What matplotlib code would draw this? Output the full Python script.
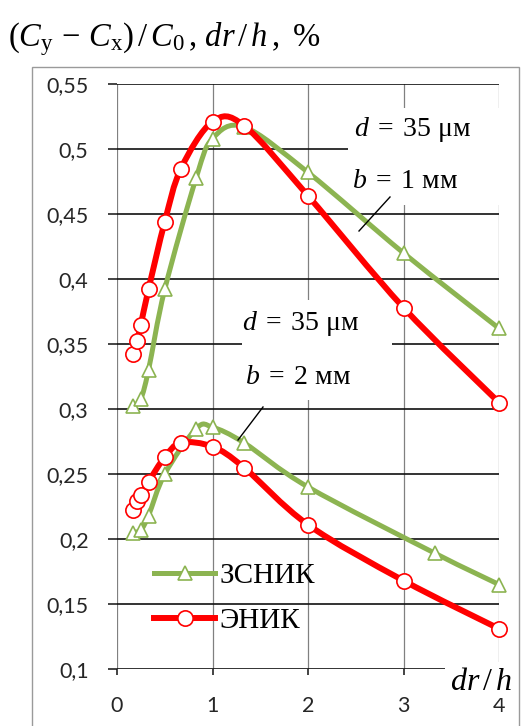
import matplotlib
matplotlib.use("Agg")
import matplotlib.pyplot as plt
from matplotlib.path import Path
from matplotlib.patches import PathPatch, Rectangle
from matplotlib.lines import Line2D
from matplotlib.ticker import FuncFormatter
import numpy as np

plt.rcParams['mathtext.fontset'] = 'custom'
plt.rcParams['mathtext.rm'] = 'Liberation Serif'
plt.rcParams['mathtext.it'] = 'Liberation Serif:italic'
plt.rcParams['mathtext.bf'] = 'Liberation Serif:bold'

# ---- data ----
x_green_1 = [0.17, 0.25, 0.33, 0.5, 0.83, 1.0, 1.33, 2, 3, 4]
y_green_1 = [0.302, 0.308, 0.330, 0.392, 0.478, 0.508, 0.517, 0.482, 0.420, 0.362]
x_red_1 = [0.17, 0.21, 0.25, 0.33, 0.5, 0.67, 1.0, 1.33, 2, 3, 4]
y_red_1 = [0.342, 0.352, 0.365, 0.392, 0.444, 0.485, 0.521, 0.518, 0.464, 0.378, 0.305]
x_green_2 = [0.17, 0.25, 0.33, 0.5, 0.83, 1.0, 1.33, 2, 3.33, 4]
y_green_2 = [0.205, 0.207, 0.218, 0.250, 0.285, 0.286, 0.274, 0.240, 0.189, 0.165]
x_red_2 = [0.17, 0.21, 0.25, 0.33, 0.5, 0.67, 1.0, 1.33, 2, 3, 4]
y_red_2 = [0.222, 0.229, 0.234, 0.244, 0.263, 0.274, 0.271, 0.255, 0.211, 0.168, 0.131]
x_ticks = [0, 1, 2, 3, 4]
y_ticks = [0.1, 0.15, 0.2, 0.25, 0.3, 0.35, 0.4, 0.45, 0.5, 0.55]
legend_labels = ['ЗСНИК', 'ЭНИК']

GREEN = '#8cb451'
RED = '#ff0000'

W, H = 523, 726
fig = plt.figure(figsize=(W / 100, H / 100), dpi=100)


def fx(px):
    return px / W


def fy(py):
    return 1 - py / H


ax = fig.add_axes([fx(117), fy(669), fx(499) - fx(117), (669 - 84) / H])
ax.set_xlim(0, 4)
ax.set_ylim(0.1, 0.55)
for s in ax.spines.values():
    s.set_visible(False)
ax.set_axisbelow(True)
ax.set_xticks(x_ticks)
ax.set_yticks(y_ticks)
ax.yaxis.grid(True, color='#111111', lw=1.2)
ax.xaxis.grid(True, color='#808080', lw=0.9)
ax.yaxis.set_major_formatter(FuncFormatter(lambda v, p: ('%g' % round(v, 2)).replace('.', ',')))
ax.tick_params(axis='y', length=6.5, width=1.1, color='#111111', pad=14, labelsize=15.5,
               labelcolor='#262626')
ax.tick_params(axis='x', length=4.3, width=1.1, color='#111111', pad=15, labelsize=15.5,
               labelcolor='#262626')
for lab in ax.get_xticklabels() + ax.get_yticklabels():
    lab.set_fontfamily('Lato')


def smooth_path(xs, ys):
    P = np.column_stack([xs, ys]).astype(float)
    n = len(P)
    verts = [P[0]]
    codes = [Path.MOVETO]
    for i in range(n - 1):
        p0 = P[i - 1] if i > 0 else P[i]
        p1 = P[i]
        p2 = P[i + 1]
        p3 = P[i + 2] if i + 2 < n else P[i + 1]
        c1 = p1 + (p2 - p0) / 6.0
        c2 = p2 - (p3 - p1) / 6.0
        verts += [c1, c2, p2]
        codes += [Path.CURVE4] * 3
    return Path(verts, codes)


def draw_series(xs, ys, color, lw, marker, ms, z):
    ax.add_patch(PathPatch(smooth_path(xs, ys), fill=False, edgecolor=color, lw=lw,
                           capstyle='round', joinstyle='round', zorder=z))
    ax.plot(xs, ys, linestyle='none', marker=marker, ms=ms, mfc='white', mec=color,
            mew=1.2, zorder=z + 0.5, clip_on=False)


draw_series(x_green_1, y_green_1, GREEN, 3.6, '^', 10, 3)
draw_series(x_green_2, y_green_2, GREEN, 3.6, '^', 10, 3)
draw_series(x_red_1, y_red_1, RED, 4.3, 'o', 11, 5)
draw_series(x_red_2, y_red_2, RED, 4.3, 'o', 11, 5)

# white boxes behind annotations
for (x0, y0, x1, y1) in [(348, 108, 500, 205), (242, 300, 392, 400), (445, 662, 517, 698)]:
    ax.add_patch(Rectangle((fx(x0), fy(y1)), fx(x1) - fx(x0), (y1 - y0) / H,
                           transform=fig.transFigure, facecolor='white', edgecolor='none',
                           zorder=1, clip_on=False))

serif = 'Liberation Serif'
fig.text(fx(354), fy(130), r'$d\;=\;35$ μм', fontsize=20, family=serif, va='center', ha='left')
fig.text(fx(352), fy(182), r'$b\;=\;1$ мм', fontsize=20, family=serif, va='center', ha='left')
fig.text(fx(242), fy(323), r'$d\;=\;35$ μм', fontsize=20, family=serif, va='center', ha='left')
fig.text(fx(245), fy(377), r'$b\;=\;2$ мм', fontsize=20, family=serif, va='center', ha='left')
fig.add_artist(Line2D([fx(359), fx(390)], [fy(231), fy(197)], color='black', lw=1.0))
fig.add_artist(Line2D([fx(238), fx(263)], [fy(440), fy(407)], color='black', lw=1.0))

fig.text(fx(450), fy(682), r'$dr\,/\,h$', fontsize=23, family=serif, va='center', ha='left')

fig.text(fx(8), fy(46), r'$(C_{\mathrm{y}}\,-\,C_{\mathrm{x}})\,/\,C_0\,,\,dr\,/\,h\,,$ %', fontsize=23.5,
         family=serif, va='baseline', ha='left')

# legend (transparent)
handles = [Line2D([], [], color=GREEN, lw=3.6, marker='^', ms=10, mfc='white', mec=GREEN, mew=1.2),
           Line2D([], [], color=RED, lw=4.3, marker='o', ms=11, mfc='white', mec=RED, mew=1.2)]
leg = fig.legend(handles, legend_labels, loc='upper left', bbox_to_anchor=(fx(154), fy(563)),
                 frameon=False, prop={'family': serif, 'size': 21}, handlelength=2.1,
                 handletextpad=0.15, labelspacing=0.62, borderpad=0, borderaxespad=0)

# outer frame
fig.add_artist(Rectangle((fx(32), fy(740)), fx(519) - fx(32), (740 - 67) / H,
                         transform=fig.transFigure, facecolor='none', edgecolor='#9a9a9a',
                         lw=1.0, zorder=0))

fig.savefig('out.png', dpi=100)
